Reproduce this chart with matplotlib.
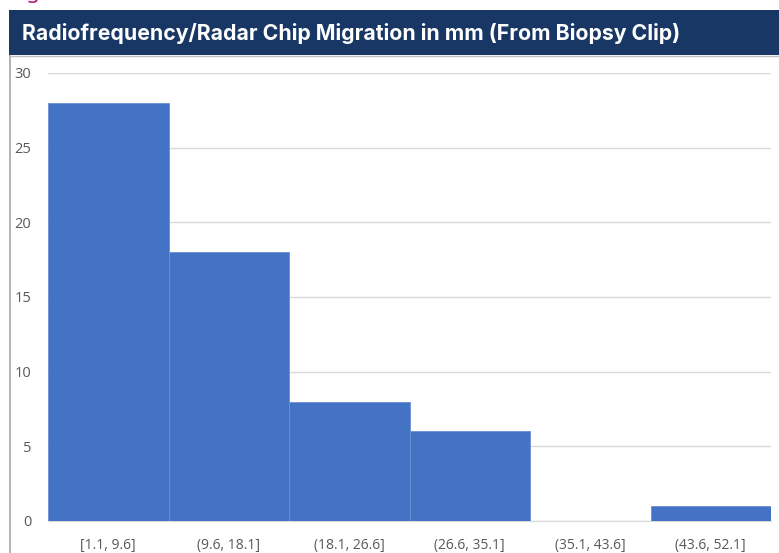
import matplotlib.pyplot as plt
from matplotlib.patches import Rectangle
from matplotlib.lines import Line2D

# histogram bins and counts
bins = ['[1.1, 9.6]', '(9.6, 18.1]', '(18.1, 26.6]', '(26.6, 35.1]', '(35.1, 43.6]', '(43.6, 52.1]']
counts = [28, 18, 8, 6, 0, 1]
yticks = [0, 5, 10, 15, 20, 25, 30]

W, H = 779, 553
fig = plt.figure(figsize=(W / 100, H / 100), dpi=100)

# clipped caption above the panel
fig.text(10 / W, 1 + 2 / H, 'Figure', color='#b5177a', fontsize=16,
         family='Noto Sans', va='baseline', ha='left')

# title bar
fig.patches.append(Rectangle((9 / W, (H - 55) / H), 1 - 9 / W, 45 / H,
                             transform=fig.transFigure, facecolor='#183764',
                             edgecolor='none', zorder=0))
fig.text(22 / W, (H - 34) / H, 'Radiofrequency/Radar Chip Migration in mm (From Biopsy Clip)',
         color='white', fontsize=15.3, fontweight='bold', family='Inter', va='center', ha='left')

# chart frame
fig.lines.append(Line2D([10 / W, 10 / W], [0, (H - 56) / H], transform=fig.transFigure,
                        color='#a6a6a6', lw=1.2))
fig.lines.append(Line2D([10 / W, 1], [(H - 56) / H, (H - 56) / H], transform=fig.transFigure,
                        color='#bfbfbf', lw=1.0))

ax = fig.add_axes([48 / W, (H - 521) / H, (771 - 48) / W, (521 - 73) / H])
ax.bar(range(len(bins)), counts, width=1.0, color='#4472c4',
       edgecolor='#6a8fd2', linewidth=0.6, zorder=3)
ax.set_xlim(-0.5, len(bins) - 0.5)
ax.set_ylim(0, 30)
ax.set_yticks(yticks)
ax.set_xticks(range(len(bins)))
ax.set_xticklabels(bins)
ax.grid(axis='y', color='#d9d9d9', lw=1.0, zorder=0)
for s in ['top', 'right', 'left']:
    ax.spines[s].set_visible(False)
ax.spines['bottom'].set_color('#d9d9d9')
ax.tick_params(length=0, colors='#595959', labelsize=10)
ax.tick_params(axis='x', pad=12)
ax.tick_params(axis='y', labelsize=10.5, pad=12)
for lbl in ax.get_xticklabels() + ax.get_yticklabels():
    lbl.set_family('Open Sans')

fig.savefig('out.png', dpi=100)
